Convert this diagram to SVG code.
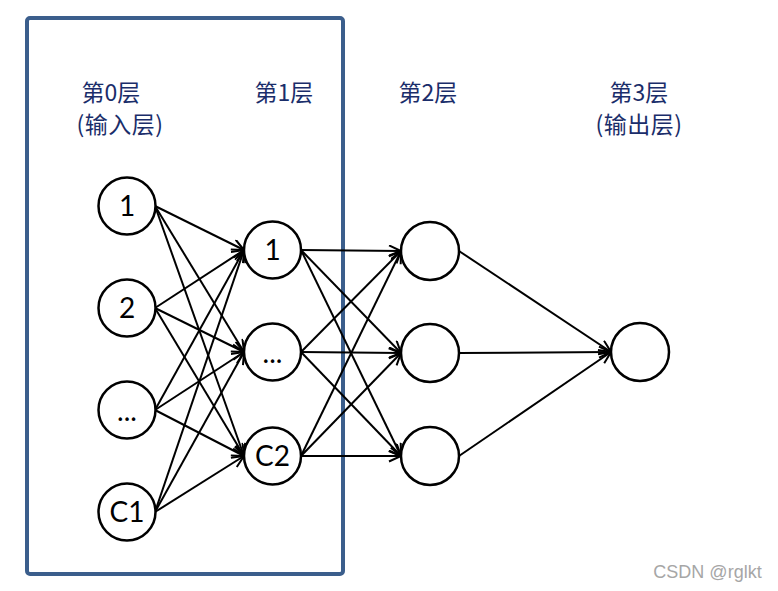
<svg xmlns="http://www.w3.org/2000/svg" width="778" height="591" viewBox="0 0 778 591">
<style>
.n{fill:#fff;stroke:#000;stroke-width:2.5}
.t{font-family:Lato,"Liberation Sans",sans-serif;font-size:28px;fill:#000;text-anchor:middle}
.lab{font-family:"Noto Sans CJK SC","Noto Sans",sans-serif;font-size:23px;fill:#1a2d6a;text-anchor:middle}
.c line{stroke:#000;stroke-width:2;marker-end:url(#ah)}
</style>
<defs>
<marker id="ah" markerUnits="userSpaceOnUse" markerWidth="16" markerHeight="16" refX="13" refY="6" orient="auto">
<path d="M1,0.5 L13,6 L1,11.5" fill="none" stroke="#000" stroke-width="2"/>
</marker>
</defs>
<rect width="778" height="591" fill="#fff"/>
<rect id="box" x="27" y="18" width="316" height="556" rx="3" fill="none" stroke="#3b5e8c" stroke-width="4"/>
<g id="labels">
<text class="lab" x="111" y="101">第0层</text>
<text class="lab" x="120" y="133" letter-spacing="0.5">(输入层)</text>
<text class="lab" x="284" y="101">第1层</text>
<text class="lab" x="428" y="101">第2层</text>
<text class="lab" x="639" y="101">第3层</text>
<text class="lab" x="639" y="133" letter-spacing="0.5">(输出层)</text>
</g>
<g id="connectors" class="c">
<line x1="155" y1="206" x2="244" y2="250"/>
<line x1="155" y1="206" x2="244" y2="352"/>
<line x1="155" y1="206" x2="244" y2="456"/>
<line x1="155" y1="308" x2="244" y2="250"/>
<line x1="155" y1="308" x2="244" y2="352"/>
<line x1="155" y1="308" x2="244" y2="456"/>
<line x1="155" y1="410" x2="244" y2="250"/>
<line x1="155" y1="410" x2="244" y2="352"/>
<line x1="155" y1="410" x2="244" y2="456"/>
<line x1="155" y1="512" x2="244" y2="250"/>
<line x1="155" y1="512" x2="244" y2="352"/>
<line x1="155" y1="512" x2="244" y2="456"/>
<line x1="301" y1="250" x2="401" y2="251"/>
<line x1="301" y1="250" x2="401" y2="353"/>
<line x1="301" y1="250" x2="401" y2="456"/>
<line x1="301" y1="352" x2="401" y2="251"/>
<line x1="301" y1="352" x2="401" y2="353"/>
<line x1="301" y1="352" x2="401" y2="456"/>
<line x1="301" y1="456" x2="401" y2="251"/>
<line x1="301" y1="456" x2="401" y2="353"/>
<line x1="301" y1="456" x2="401" y2="456"/>
<line x1="459" y1="251" x2="611" y2="352"/>
<line x1="459" y1="353" x2="611" y2="352"/>
<line x1="459" y1="456" x2="611" y2="352"/>
</g>
<g id="n0_1"><circle class="n" cx="127" cy="206" r="28.5"/><text class="t" x="127" y="216">1</text></g>
<g id="n0_2"><circle class="n" cx="127" cy="308" r="28.5"/><text class="t" x="127" y="318">2</text></g>
<g id="n0_3"><circle class="n" cx="127" cy="410" r="28.5"/><text class="t" x="127" y="421">...</text></g>
<g id="n0_4"><circle class="n" cx="127" cy="512" r="28.5"/><text class="t" x="127" y="522">C1</text></g>
<g id="n1_1"><circle class="n" cx="272.5" cy="250" r="28.5"/><text class="t" x="272.5" y="260">1</text></g>
<g id="n1_2"><circle class="n" cx="272.5" cy="352" r="28.5"/><text class="t" x="272.5" y="363">...</text></g>
<g id="n1_3"><circle class="n" cx="272.5" cy="456" r="28.5"/><text class="t" x="272.5" y="466">C2</text></g>
<g id="n2_1"><circle class="n" cx="430" cy="251" r="29"/></g>
<g id="n2_2"><circle class="n" cx="430" cy="353" r="29"/></g>
<g id="n2_3"><circle class="n" cx="430" cy="456" r="29"/></g>
<g id="n3_1"><circle class="n" cx="640" cy="352" r="29"/></g>
<text x="707.5" y="578" font-family="'Liberation Sans',sans-serif" font-size="18" fill="#a6a6a6" text-anchor="middle">CSDN @rglkt</text>
</svg>
